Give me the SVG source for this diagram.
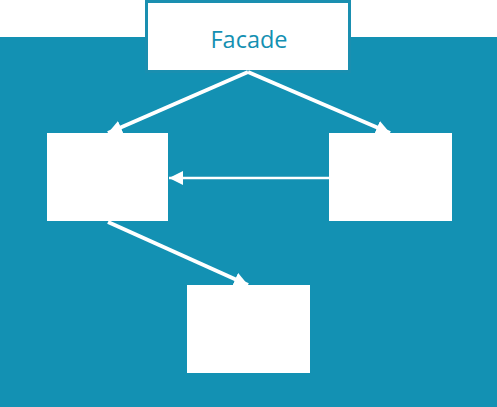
<svg xmlns="http://www.w3.org/2000/svg" width="497" height="407" viewBox="0 0 497 407">
<style>
.box{fill:#ffffff;}
.conn{stroke:#ffffff;fill:none;}
.lbl{font-family:"Open Sans","Noto Sans",sans-serif;font-size:23.5px;fill:#1490b2;}
</style>
<defs>
<marker id="ah" viewBox="0 0 10 10" refX="10" refY="5" markerWidth="14" markerHeight="14" markerUnits="userSpaceOnUse" orient="auto">
<path d="M0,0 L10,5 L0,10 z" fill="#ffffff"/>
</marker>
</defs>
<rect x="0" y="0" width="497" height="407" fill="#ffffff"/>
<rect x="0" y="37" width="497" height="370" fill="#1391b3"/>
<g id="facade">
<rect x="146.5" y="1.5" width="203" height="70" fill="#ffffff" stroke="#1a8fb0" stroke-width="3"/>
<text class="lbl" x="249" y="48" text-anchor="middle">Facade</text>
</g>
<g id="left"><rect class="box" x="47" y="133" width="121" height="88"/></g>
<g id="right"><rect class="box" x="329" y="133" width="123" height="88"/></g>
<g id="bottom"><rect class="box" x="187" y="285" width="123" height="88"/></g>
<g id="connectors">
<line class="conn" x1="248" y1="72" x2="108" y2="133" stroke-width="4" marker-end="url(#ah)"/>
<line class="conn" x1="248" y1="72" x2="390" y2="133" stroke-width="4" marker-end="url(#ah)"/>
<line class="conn" x1="329" y1="178" x2="169" y2="178" stroke-width="2.5" marker-end="url(#ah)"/>
<line class="conn" x1="108" y1="222" x2="248" y2="285" stroke-width="4" marker-end="url(#ah)"/>
</g>
</svg>
